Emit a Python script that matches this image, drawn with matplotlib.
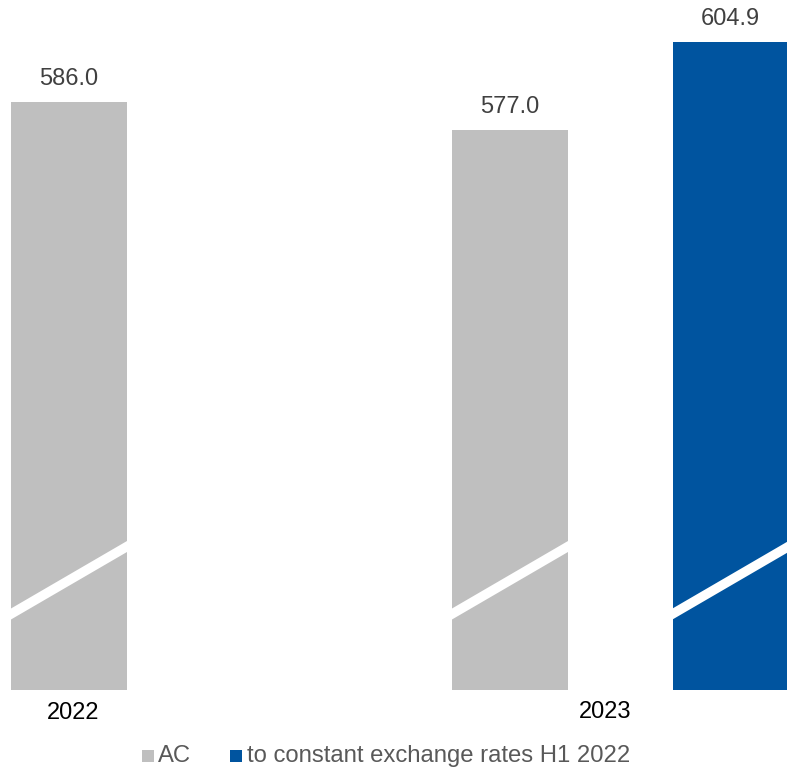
import matplotlib
matplotlib.use("Agg")
import matplotlib.pyplot as plt
from matplotlib.patches import Polygon, Rectangle

plt.rcParams['font.family'] = ['Liberation Sans', 'DejaVu Sans']

# data
positions = [0, 2, 3]
values = [586.0, 577.0, 604.9]
value_labels = ["586.0", "577.0", "604.9"]
series = ["AC", "AC", "to constant exchange rates H1 2022"]
year_labels = ["2022", "2023"]
legend_labels = ["AC", "to constant exchange rates H1 2022"]

colors = {"AC": "#BFBFBF", "to constant exchange rates H1 2022": "#00549F"}

W, H = 787, 771
fig = plt.figure(figsize=(W / 100, H / 100), dpi=100)
ax = fig.add_axes([0, (H - 690) / H, 1, 690 / H])

px_per_unit_x = 220.5
ymin = 399.2
px_per_unit_y = 3.15
ax.set_xlim((0 - 69) / px_per_unit_x, (W - 69) / px_per_unit_x)
ax.set_ylim(ymin, ymin + 690 / px_per_unit_y)
ax.axis('off')

bw = 116 / px_per_unit_x
for p, v, lab, s in zip(positions, values, value_labels, series):
    ax.bar(p, v - ymin, bottom=ymin, width=bw, color=colors[s], linewidth=0)
    ax.annotate(lab, (p, v), xytext=(0, 12), textcoords='offset pixels',
                ha='center', va='bottom', fontsize=17, color='#404040')
    # broken-axis white stripe
    xl, xr = p - bw / 2, p + bw / 2
    y1 = ymin + (690 - 614) / px_per_unit_y
    y2 = ymin + (690 - 546.5) / px_per_unit_y
    h = 11 / px_per_unit_y
    poly = Polygon([(xl, y1 - h / 2), (xr, y2 - h / 2), (xr, y2 + h / 2), (xl, y1 + h / 2)],
                   closed=True, facecolor='white', edgecolor='none', zorder=3)
    ax.add_patch(poly)

# year labels
fig.text(73 / W, 1 - 713 / H, year_labels[0], ha='center', va='center', fontsize=17, color='black')
fig.text(605 / W, 1 - 712 / H, year_labels[1], ha='center', va='center', fontsize=17, color='black')

# legend
sq = 12
for (x0, xt), lab in zip([(142, 158), (230, 247)], legend_labels):
    fig.patches.append(Rectangle((x0 / W, 1 - 762 / H), sq / W, sq / H,
                                 transform=fig.transFigure, facecolor=colors[lab], edgecolor='none'))
    fig.text(xt / W, 1 - 756 / H, lab, ha='left', va='center', fontsize=17.2, color='#595959')

fig.savefig("out.png", dpi=100)
